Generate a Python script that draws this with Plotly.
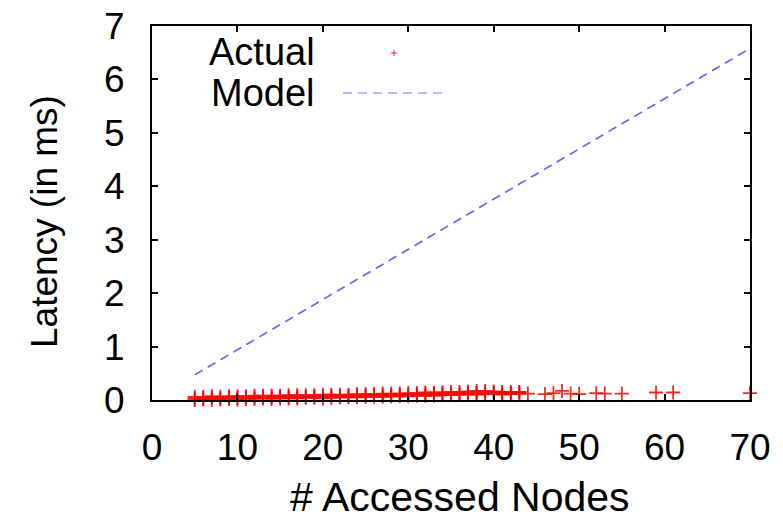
import plotly.graph_objects as go

# ---- data ----
dense_nodes = list(range(5, 44))
latency_low = [0.00, 0.01, 0.00, 0.01, 0.02, 0.01, 0.02, 0.02, 0.03, 0.02,
               0.03, 0.03, 0.03, 0.04, 0.04, 0.03, 0.04, 0.05, 0.05, 0.05,
               0.06, 0.06, 0.06, 0.07, 0.07, 0.07, 0.08, 0.08, 0.08, 0.09,
               0.09, 0.10, 0.10, 0.10, 0.11, 0.11, 0.10, 0.11, 0.12]
latency_mid = [0.03, 0.03, 0.04, 0.03, 0.04, 0.04, 0.05, 0.05, 0.05, 0.05,
               0.06, 0.06, 0.06, 0.06, 0.07, 0.07, 0.07, 0.07, 0.08, 0.08,
               0.08, 0.09, 0.09, 0.09, 0.10, 0.10, 0.10, 0.11, 0.11, 0.12,
               0.12, 0.12, 0.13, 0.13, 0.14, 0.14, 0.13, 0.13, 0.14]
latency_high = [0.06, 0.06, 0.07, 0.06, 0.07, 0.07, 0.07, 0.08, 0.08, 0.08,
                0.08, 0.09, 0.09, 0.09, 0.09, 0.10, 0.10, 0.10, 0.10, 0.11,
                0.11, 0.11, 0.12, 0.12, 0.12, 0.13, 0.13, 0.14, 0.14, 0.14,
                0.15, 0.15, 0.16, 0.17, 0.17, 0.16, 0.15, 0.15, 0.15]
sparse_nodes = [44, 46, 47, 48, 49, 50, 52, 53, 55, 59, 61, 70]
sparse_latency = [0.12, 0.11, 0.13, 0.17, 0.12, 0.11, 0.13, 0.12, 0.12, 0.14, 0.14, 0.13]

model_nodes = [5, 70]
model_latency = [0.47, 6.58]

x_ticks = [0, 10, 20, 30, 40, 50, 60, 70]
y_ticks = [0, 1, 2, 3, 4, 5, 6, 7]

actual_x = dense_nodes * 3 + sparse_nodes
actual_y = latency_low + latency_mid + latency_high + sparse_latency

FONT = "Liberation Sans, Arial, Helvetica, sans-serif"
RED = "rgba(255,0,0,0.85)"
BLUE = "rgba(85,85,255,0.9)"

fig = go.Figure()
fig.add_trace(go.Scatter(
    x=actual_x, y=actual_y, mode="markers", name="Actual",
    marker=dict(symbol="cross-thin", size=10, line=dict(color=RED, width=1.8)),
    cliponaxis=False, showlegend=False))
fig.add_trace(go.Scatter(
    x=model_nodes, y=model_latency, mode="lines", name="Model",
    line=dict(color=BLUE, width=1.7, dash="9px,6px"),
    showlegend=False))

W, H = 783, 525
L, R, T, B = 152, 33, 26, 125
pw, ph = W - L - R, H - T - B


def px(xp):
    return (xp - L) / pw


def py(yp):
    return (H - B - yp) / ph


# gnuplot-style key: text on the left, sample on the right
annotations = [
    dict(text="Actual", x=px(317), y=py(52), xref="paper", yref="paper",
         xanchor="right", yanchor="middle", showarrow=False,
         font=dict(family=FONT, size=38, color="black")),
    dict(text="Model", x=px(317), y=py(93), xref="paper", yref="paper",
         xanchor="right", yanchor="middle", showarrow=False,
         font=dict(family=FONT, size=38, color="black")),
    dict(text="# Accessed Nodes", x=px(460), y=py(497), xref="paper", yref="paper",
         xanchor="center", yanchor="middle", showarrow=False,
         font=dict(family=FONT, size=41, color="black")),
    dict(text="Latency (in ms)", x=px(44), y=py(222), xref="paper", yref="paper",
         xanchor="center", yanchor="middle", showarrow=False, textangle=-90,
         font=dict(family=FONT, size=37, color="black")),
]
shapes = [
    dict(type="line", xref="paper", yref="paper", x0=px(343), x1=px(442),
         y0=py(93), y1=py(93), line=dict(color="rgba(120,120,255,0.7)", width=1.7, dash="9px,6px")),
    dict(type="line", xref="paper", yref="paper", x0=px(391), x1=px(397),
         y0=py(53), y1=py(53), line=dict(color=RED, width=1)),
    dict(type="line", xref="paper", yref="paper", x0=px(394), x1=px(394),
         y0=py(50), y1=py(56), line=dict(color=RED, width=1)),
]

axis_common = dict(showline=True, linecolor="black", linewidth=2, mirror="ticks",
                   ticks="inside", ticklen=6, tickwidth=1.5, tickcolor="black",
                   showgrid=False, zeroline=False,
                   tickfont=dict(family=FONT, size=37, color="black"))

fig.update_layout(
    width=W, height=H,
    margin=dict(l=L, r=R, t=T, b=B, autoexpand=False),
    paper_bgcolor="white", plot_bgcolor="white",
    xaxis=dict(range=[0, 70], tickvals=x_ticks, ticklabelstandoff=14, **axis_common),
    yaxis=dict(range=[0, 7], tickvals=y_ticks, ticklabelstandoff=18, **axis_common),
    annotations=annotations, shapes=shapes,
)

fig.write_html("out.html")
